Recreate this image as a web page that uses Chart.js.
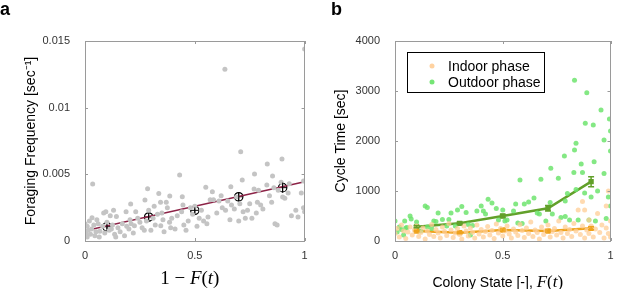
<!DOCTYPE html>
<html>
<head>
<meta charset="utf-8">
<script src="https://cdn.jsdelivr.net/npm/chart.js@4.4.0/dist/chart.umd.min.js"></script>
<style>
  body { margin: 0; background: #fff; width: 617px; height: 289px; position: relative; overflow: hidden; font-family: "Liberation Sans", Arial, sans-serif; }
  .panel { position: absolute; top: 0; height: 289px; }
  #wa { left: 0; width: 310px; }
  #wb { left: 310px; width: 307px; }
  .tag { position: absolute; font-weight: bold; font-size: 18px; line-height: 18px; color: #000; }
</style>
</head>
<body>
<div class="panel" id="wa"><canvas id="chartA" width="310" height="289"></canvas></div>
<div class="panel" id="wb"><canvas id="chartB" width="307" height="289"></canvas></div>
<div class="tag" style="left:0px;top:0px">a</div>
<div class="tag" style="left:331px;top:0px">b</div>
<script>
// axis ticks
const xTicks = [0, 0.5, 1];
const xTickLabels = ['0', '0.5', '1'];
const yTicksA = [0, 0.005, 0.01, 0.015];
const yTickLabelsA = ['0', '0.005', '0.01', '0.015'];
const yTicksB = [0, 1000, 2000, 3000, 4000];
const yTickLabelsB = ['0', '1000', '2000', '3000', '4000'];

// panel a - individual foraging frequencies (gray dots)
const scatterAX = [0.00,0.005,0.01,0.01,0.015,0.02,0.025,0.03,0.032,0.035,0.04,0.045,0.05,0.054,0.06,0.065,0.068,0.08,0.085,0.09,
  0.095,0.1,0.11,0.115,0.12,0.125,0.13,0.135,0.14,0.143,0.15,0.16,0.17,0.18,0.187,0.19,0.2,0.205,0.208,0.21,
  0.22,0.225,0.231,0.24,0.25,0.26,0.27,0.273,0.28,0.285,0.29,0.3,0.31,0.315,0.32,0.33,0.336,0.344,0.345,0.35,
  0.355,0.36,0.37,0.375,0.385,0.386,0.39,0.395,0.41,0.42,0.431,0.44,0.443,0.446,0.45,0.46,0.47,0.48,0.49,0.5,
  0.51,0.52,0.53,0.54,0.55,0.555,0.56,0.57,0.58,0.585,0.6,0.61,0.62,0.625,0.637,0.64,0.65,0.66,0.664,0.667,
  0.68,0.69,0.7,0.705,0.709,0.716,0.72,0.73,0.74,0.75,0.76,0.77,0.772,0.78,0.785,0.79,0.8,0.81,0.828,0.83,
  0.84,0.85,0.854,0.86,0.865,0.875,0.88,0.893,0.897,0.9,0.91,0.925,0.93,0.94,0.96,0.97,0.985,0.995,0.995,1.0,1.0];
const scatterAY = [0.0013,0.0006,0.0011,0.0003,0.0008,0.0015,0.0005,0.0009,0.00175,0.00428,0.0012,0.0004,0.0007,0.0016,0.0013,0.0003,0.00073,0.0011,0.0021,0.0006,
  0.0022,0.0014,0.0008,0.0019,0.0009,0.0012,0.0023,0.0005,0.0003,0.00183,0.0010,0.0007,0.0013,0.0004,0.0022,0.0011,0.0009,0.0016,0.00277,0.0013,
  0.0006,0.00115,0.0022,0.0017,0.0014,0.0010,0.0008,0.00307,0.0015,0.00392,0.0023,0.0008,0.0017,0.0026,0.0012,0.0020,0.00357,0.0029,0.00115,0.0021,
  0.0016,0.0007,0.0029,0.0025,0.0014,0.00337,0.0010,0.0017,0.0009,0.0019,0.00495,0.0022,0.00332,0.0027,0.0012,0.0008,0.0015,0.0025,0.0020,0.0026,
  0.0011,0.0017,0.0023,0.0015,0.00403,0.0013,0.0018,0.0031,0.0037,0.0031,0.0021,0.0030,0.0034,0.0025,0.01288,0.0023,0.0030,0.0016,0.00407,0.0027,
  0.0024,0.0033,0.0015,0.0028,0.0067,0.00457,0.0022,0.0017,0.0023,0.0028,0.0017,0.0039,0.00502,0.0021,0.0029,0.0038,0.0027,0.0024,0.0042,0.00577,
  0.0034,0.0029,0.00488,0.0040,0.0013,0.0012,0.0038,0.0044,0.00615,0.0033,0.0032,0.0036,0.0043,0.0019,0.0023,0.0018,0.0036,0.0045,0.0025,0.0144,0.0022];

// panel a - binned means and linear fit
const meanAX = [0.1, 0.29, 0.5, 0.7, 0.9];
const meanAY = [0.00107, 0.0018, 0.0023, 0.00332, 0.0040];
const meanAErr = [0.00018, 0.0002, 0.00022, 0.00035, 0.00038];
const fitAX = [0, 1];
const fitAY = [0.00077, 0.00445];

// panel b - indoor / outdoor cycle times
const indoorX = [0.0,0.01,0.02,0.03,0.04,0.05,0.06,0.07,0.08,0.09,0.1,0.11,0.12,0.13,0.14,0.15,0.16,0.17,0.18,0.19,
  0.2,0.21,0.22,0.23,0.24,0.25,0.26,0.27,0.28,0.29,0.3,0.31,0.32,0.33,0.34,0.35,0.36,0.37,0.38,0.39,
  0.4,0.41,0.42,0.43,0.44,0.45,0.46,0.47,0.48,0.49,0.5,0.51,0.52,0.53,0.54,0.55,0.56,0.57,0.58,0.59,
  0.6,0.61,0.62,0.63,0.64,0.65,0.66,0.67,0.68,0.69,0.7,0.71,0.72,0.73,0.74,0.75,0.76,0.77,0.78,0.79,
  0.8,0.81,0.82,0.83,0.84,0.85,0.86,0.87,0.87,0.88,0.88,0.89,0.9,0.9,0.91,0.92,0.93,0.94,0.95,0.96,
  0.97,0.98,0.98,0.99,0.99,1.0,1.0];
const indoorY = [150,250,80,320,200,50,180,280,120,220,300,90,170,260,40,200,130,330,90,230,
  160,60,280,190,110,350,220,70,160,250,130,40,300,200,100,260,170,60,320,140,
  230,80,190,290,120,210,50,340,160,250,100,200,300,140,60,240,180,110,330,210,
  70,260,150,380,90,220,170,40,280,130,210,320,80,190,250,120,400,170,60,280,
  150,230,90,350,200,620,130,790,300,620,60,220,420,150,300,80,240,550,170,320,
  60,700,260,1000,150,400,80];
const outdoorX = [0.0,0.01,0.02,0.03,0.04,0.045,0.05,0.055,0.07,0.075,0.1,0.12,0.14,0.15,0.15,0.17,0.18,0.19,0.2,0.22,
  0.24,0.25,0.26,0.28,0.29,0.31,0.33,0.34,0.35,0.36,0.38,0.4,0.41,0.42,0.432,0.45,0.47,0.48,0.5,0.51,
  0.52,0.55,0.56,0.57,0.58,0.59,0.6,0.62,0.645,0.66,0.67,0.677,0.7,0.72,0.723,0.73,0.758,0.77,0.786,0.79,
  0.79,0.8,0.81,0.833,0.833,0.84,0.84,0.85,0.83,0.864,0.87,0.88,0.883,0.89,0.9,0.91,0.92,0.924,0.93,0.94,
  0.956,0.97,0.97,0.98,0.99,0.995,1.0,1.0,1.0];
const outdoorY = [400,180,280,230,120,400,260,270,500,440,380,200,700,670,280,250,400,390,560,430,
  300,430,560,300,620,690,570,330,120,310,600,700,600,540,833,760,650,420,620,400,
  420,600,740,360,1220,350,740,780,860,560,540,1233,400,770,1453,540,1253,470,1700,800,
  490,950,420,3213,1820,1953,1030,420,1370,1540,1370,960,2353,2967,420,880,2320,1587,400,1000,
  2620,2020,1350,450,880,2440,1800,700,2200];

// panel b - binned means
const binBX = [0.1, 0.3, 0.5, 0.71, 0.91];
const indoorMean = [200, 167, 220, 200, 253];
const indoorErr = [15, 15, 20, 20, 30];
const outdoorMean = [287, 353, 500, 653, 1187];
const outdoorErr = [20, 25, 30, 55, 100];

const pts = (xs, ys) => xs.map((x, i) => ({ x: x, y: ys[i] }));

const TICK_FONT = { family: '"Liberation Sans", Arial, sans-serif', size: 11 };
const TITLE_FONT = { family: '"Liberation Sans", Arial, sans-serif', size: 14 };

// box, inner tick marks, error bars, x titles and legend
const framePlugin = {
  id: 'frame',
  afterDatasetsDraw(chart, args, opts) {
    const ctx = chart.ctx;
    const a = chart.chartArea;
    const xs = chart.scales.x, ys = chart.scales.y;
    ctx.save();
    // error bars
    chart.data.datasets.forEach((ds, i) => {
      if (!ds.errY) return;
      ctx.strokeStyle = ds.errColor || ds.borderColor;
      ctx.lineWidth = ds.errWidth || 1;
      ds.data.forEach((p, j) => {
        const px = xs.getPixelForValue(p.x);
        const y1 = ys.getPixelForValue(p.y - ds.errY[j]);
        const y2 = ys.getPixelForValue(p.y + ds.errY[j]);
        ctx.beginPath();
        ctx.moveTo(px, y1); ctx.lineTo(px, y2);
        if (ds.capW) {
          ctx.moveTo(px - ds.capW, y1); ctx.lineTo(px + ds.capW, y1);
          ctx.moveTo(px - ds.capW, y2); ctx.lineTo(px + ds.capW, y2);
        }
        ctx.stroke();
      });
    });
    // box
    ctx.strokeStyle = '#9a9a9a';
    ctx.lineWidth = 1;
    ctx.strokeRect(Math.round(a.left) + 0.5, Math.round(a.top) + 0.5, Math.round(a.right - a.left) - 1, Math.round(a.bottom - a.top));
    ctx.beginPath();
    xs.ticks.forEach(t => {
      const px = Math.round(xs.getPixelForValue(t.value)) + 0.5;
      ctx.moveTo(px, a.bottom); ctx.lineTo(px, a.bottom - 3);
      ctx.moveTo(px, a.top); ctx.lineTo(px, a.top + 3);
    });
    ys.ticks.forEach(t => {
      const py = Math.round(ys.getPixelForValue(t.value)) + 0.5;
      ctx.moveTo(a.left, py); ctx.lineTo(a.left + 3, py);
      ctx.moveTo(a.right, py); ctx.lineTo(a.right - 3, py);
    });
    ctx.stroke();
    // legend
    if (opts.legend) {
      const L = opts.legend;
      ctx.fillStyle = '#fff';
      ctx.fillRect(L.x, L.y, L.w, L.h);
      ctx.strokeStyle = '#000';
      ctx.strokeRect(L.x + 0.5, L.y + 0.5, L.w, L.h);
      L.items.forEach((it, k) => {
        const cy = L.y + 14 + k * 16;
        ctx.fillStyle = it.color;
        ctx.beginPath();
        ctx.arc(L.x + 25, cy, 2.5, 0, Math.PI * 2);
        ctx.fill();
        ctx.fillStyle = '#000';
        ctx.font = '14px "Liberation Sans", Arial, sans-serif';
        ctx.textBaseline = 'middle';
        ctx.textAlign = 'left';
        ctx.fillText(it.text, L.x + 41, cy + 1);
      });
    }
    // x title with math-style parts
    if (opts.xTitle) {
      let w = 0;
      opts.xTitle.forEach(s => { ctx.font = s.f; w += ctx.measureText(s.t).width; });
      let x = (a.left + a.right) / 2 - 5 - w / 2;
      ctx.fillStyle = '#000';
      ctx.textBaseline = 'alphabetic';
      ctx.textAlign = 'left';
      opts.xTitle.forEach(s => {
        ctx.font = s.f;
        ctx.fillText(s.t, x, opts.xTitleY);
        x += ctx.measureText(s.t).width;
      });
    }
    ctx.restore();
  }
};

function baseOptions(yMin, yMax, yTicks, yLabels, yTitle, rightPad) {
  return {
    responsive: false,
    animation: false,
    layout: { padding: { top: 41, right: rightPad, bottom: 0, left: 0 } },
    plugins: { legend: { display: false }, tooltip: { enabled: false } },
    scales: {
      x: {
        type: 'linear', min: 0, max: 1,
        grid: { display: false, drawTicks: false },
        border: { display: false },
        afterBuildTicks: s => { s.ticks = xTicks.map(v => ({ value: v })); },
        afterFit: s => { s.height = 48; s.paddingLeft = 0; s.paddingRight = 0; },
        ticks: { font: TICK_FONT, color: '#333', padding: 8, maxRotation: 0, callback: (v, i) => xTickLabels[i] }
      },
      y: {
        type: 'linear', min: yMin, max: yMax,
        grid: { display: false, drawTicks: false },
        border: { display: false },
        afterBuildTicks: s => { s.ticks = yTicks.map(v => ({ value: v })); },
        afterFit: s => { s.width = 85; },
        ticks: { font: TICK_FONT, color: '#333', padding: 15, callback: (v, i) => yLabels[i] },
        title: { display: true, text: yTitle, font: TITLE_FONT, color: '#000', padding: { top: 23, bottom: 0 } }
      }
    }
  };
}

// panel a
const optsA = baseOptions(0, 0.015, yTicksA, yTickLabelsA, 'Foraging Frequency [sec\u207B\u00B9]', 4);
optsA.plugins.frame = {
  xTitle: [
    { t: '1 \u2212 ', f: '19px "Liberation Serif", serif' },
    { t: 'F', f: 'italic 19px "Liberation Serif", serif' },
    { t: '(', f: '19px "Liberation Serif", serif' },
    { t: 't', f: 'italic 19px "Liberation Serif", serif' },
    { t: ')', f: '19px "Liberation Serif", serif' }
  ],
  xTitleY: 284
};
new Chart(document.getElementById('chartA'), {
  type: 'scatter',
  data: {
    datasets: [
      { data: pts(scatterAX, scatterAY), backgroundColor: '#c4c4c4', borderWidth: 0, pointRadius: 2.5 },
      { data: pts(fitAX, fitAY), showLine: true, borderColor: '#8c2246', borderWidth: 1.5, pointRadius: 0 },
      { data: pts(meanAX, meanAY), errY: meanAErr, errColor: '#000', borderColor: '#000', backgroundColor: 'rgba(0,0,0,0)',
        borderWidth: 1.2, pointRadius: 4.2 },
      { data: pts(meanAX, meanAY), pointStyle: 'cross', borderColor: '#000', borderWidth: 1, pointRadius: 4.2 }
    ]
  },
  options: optsA,
  plugins: [framePlugin]
});

// panel b
const optsB = baseOptions(0, 4000, yTicksB, yTickLabelsB, 'Cycle Time [sec]', 1);
optsB.plugins.frame = {
  xTitle: [
    { t: 'Colony State [-], ', f: '14px "Liberation Sans", Arial, sans-serif' },
    { t: 'F', f: 'italic 17px "Liberation Serif", serif' },
    { t: '(', f: '17px "Liberation Serif", serif' },
    { t: 't', f: 'italic 17px "Liberation Serif", serif' },
    { t: ')', f: '17px "Liberation Serif", serif' }
  ],
  xTitleY: 287,
  legend: {
    x: 97, y: 52, w: 137, h: 40,
    items: [
      { text: 'Indoor phase', color: 'rgba(255,205,150,0.9)' },
      { text: 'Outdoor phase', color: 'rgba(110,228,110,0.95)' }
    ]
  }
};
new Chart(document.getElementById('chartB'), {
  type: 'scatter',
  data: {
    datasets: [
      { data: pts(indoorX, indoorY), backgroundColor: 'rgba(255,205,150,0.75)', borderWidth: 0, pointRadius: 2.5 },
      { data: pts(outdoorX, outdoorY), backgroundColor: 'rgba(110,228,110,0.85)', borderWidth: 0, pointRadius: 2.5 },
      { data: pts(binBX, indoorMean), errY: indoorErr, capW: 3, errWidth: 1.5, showLine: true, borderColor: '#eea21c',
        backgroundColor: '#eea21c', borderWidth: 2.5, pointStyle: 'rect', pointRadius: 2 },
      { data: pts(binBX, outdoorMean), errY: outdoorErr, capW: 3, errWidth: 1.5, showLine: true, borderColor: '#62a02a',
        backgroundColor: '#62a02a', borderWidth: 2.5, pointStyle: 'rect', pointRadius: 2 }
    ]
  },
  options: optsB,
  plugins: [framePlugin]
});
</script>
</body>
</html>
